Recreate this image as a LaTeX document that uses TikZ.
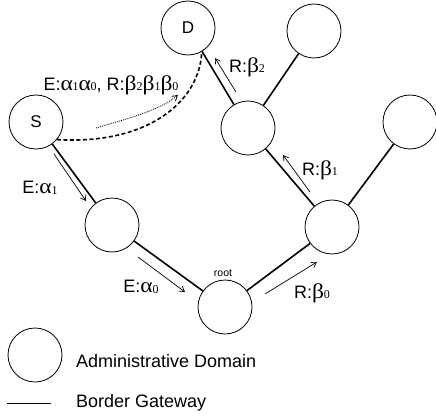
\documentclass[tikz,border=0pt]{standalone}
\usepackage{fontspec}
\setmainfont{Liberation Sans}
\newfontfamily\grk{Liberation Serif}
\usetikzlibrary{arrows.meta}
\newcommand{\gA}[1]{\scalebox{1.12}[1]{\grk\fontsize{21}{21}\selectfont α}\kern-0.3pt\raisebox{-0.8pt}{\grk\fontsize{12}{12}\selectfont #1}}
\newcommand{\gB}[1]{\scalebox{1.12}[1]{\grk\fontsize{21}{21}\selectfont β}\raisebox{-0.8pt}{\grk\fontsize{12}{12}\selectfont #1}}
\tikzset{
  dom/.style={circle,draw,line width=0.8pt,minimum size=54pt,inner sep=0pt,font=\fontsize{17}{17}\selectfont},
  bg/.style={line width=1.6pt},
  flow/.style={line width=0.7pt,-{Straight Barb[length=5pt,width=6pt]}},
  lbl/.style={font=\fontsize{18}{18}\selectfont,inner sep=0pt}
}
\begin{document}
\begin{tikzpicture}[x=1pt,y=-1pt]
\useasboundingbox (0,0) rectangle (436,417);
\node[dom] (D) at (188,28) {D};
\node[dom] (S) at (36,122) {S};
\node[dom] (TR) at (314,31) {};
\node[dom] (M) at (248,128) {};
\node[dom] (FR) at (410,122) {};
\node[dom] (RL) at (332,227) {};
\node[dom] (LL) at (112,225) {};
\node[dom] (R) at (225,307) {};
\node[font=\fontsize{10.5}{10.5}\selectfont,inner sep=0pt] (rootlbl) at (223,273) {root};
% border gateways
\draw[bg] (S) -- (LL);
\draw[bg] (LL) -- (R);
\draw[bg] (R) -- (RL);
\draw[bg] (RL) -- (M);
\draw[bg] (M) -- (D);
\draw[bg] (M) -- (TR);
\draw[bg] (RL) -- (FR);
% flow arrows
\coordinate (a1s) at (54,154); \coordinate (a1e) at (86,201);
\coordinate (a0s) at (138,257); \coordinate (a0e) at (185,292);
\coordinate (b0s) at (265,294); \coordinate (b0e) at (317,262);
\coordinate (b1s) at (310,192); \coordinate (b1e) at (283,155);
\coordinate (b2s) at (236,92); \coordinate (b2e) at (215,58);
\draw[flow] (a1s) -- (a1e);
\draw[flow] (a0s) -- (a0e);
\draw[flow] (b0s) -- (b0e);
\draw[flow] (b1s) -- (b1e);
\draw[flow] (b2s) -- (b2e);
\node[lbl] (la1) at (40,188) {E:\gA{1}};
\node[lbl] (la0) at (141,287) {E:\gA{0}};
\node[lbl] (lb0) at (312,293) {R:\gB{0}};
\node[lbl] (lb1) at (320,170) {R:\gB{1}};
\node[lbl] (lb2) at (247,67) {R:\gB{2}};
\node[lbl] (lall) at (111,85) {E:\gA{1}\gA{0}, R:\gB{2}\gB{1}\gB{0}};
% dashed path S to D
\draw[line width=1.6pt,dash pattern=on 4pt off 2.5pt] (S.-40) .. controls (150,145) and (200,100) .. (D.-60);
% dotted arrow
\coordinate (ds) at (96,128); \coordinate (de) at (178,95);
\draw[line width=0.8pt,dash pattern=on 1pt off 1pt,-{Straight Barb[length=5pt,width=6pt]}] (ds) .. controls (130,118) and (160,110) .. (de);
% legend
\node[dom] (leg) at (35,355) {};
\node[lbl,anchor=west] (legt1) at (76,361) {Administrative Domain};
\coordinate (l1) at (7,403); \coordinate (l2) at (51,403);
\draw[line width=0.8pt] (l1) -- (l2);
\node[lbl,anchor=west] (legt2) at (76,403) {Border Gateway};
\end{tikzpicture}
\end{document}
